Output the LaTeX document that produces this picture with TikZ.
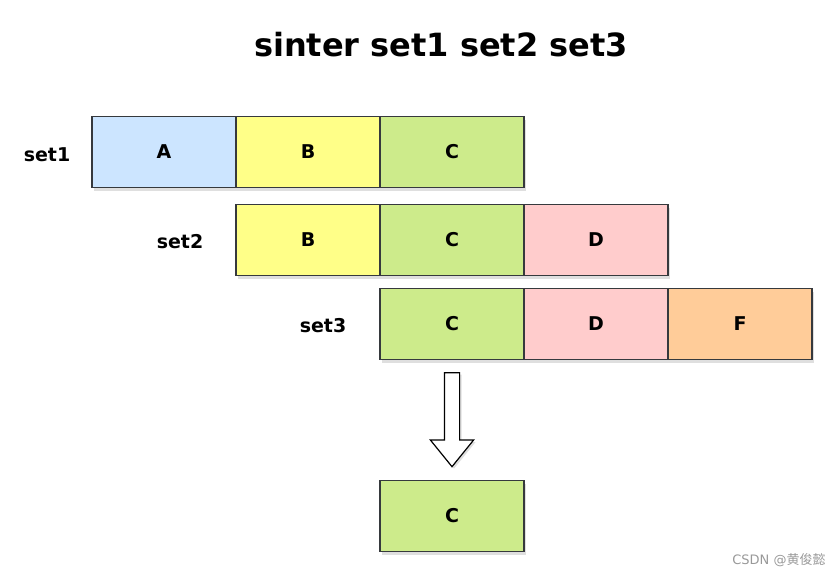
\documentclass[tikz,border=0pt]{standalone}
\usepackage{fontspec}
\setmainfont{DejaVu Sans}
\newfontfamily\cjk{Noto Sans CJK SC}
\usetikzlibrary{shapes,shadows,calc}

\definecolor{lineC}{HTML}{36393D}
\definecolor{colA}{HTML}{CCE5FF}
\definecolor{colB}{HTML}{FFFF88}
\definecolor{colC}{HTML}{CDEB8B}
\definecolor{colD}{HTML}{FFCCCC}
\definecolor{colF}{HTML}{FFCC99}

\begin{document}
\begin{tikzpicture}[x=1pt,y=-1pt]
\tikzstyle{cell}=[rectangle,draw=lineC,line width=1.6pt,minimum width=144pt,minimum height=71pt,inner sep=0pt,font=\fontsize{19}{22}\selectfont\bfseries,drop shadow={shadow xshift=2pt,shadow yshift=-3pt,opacity=0.25,fill=gray}]
\tikzstyle{setname}=[font=\fontsize{19}{22}\selectfont\bfseries]
\tikzstyle{downarrow}=[single arrow,shape border rotate=270,draw=black,line width=1.2pt,fill=white,inner sep=7pt,minimum height=94pt,single arrow head extend=14pt,single arrow tip angle=78,drop shadow={shadow xshift=2pt,shadow yshift=-2pt,opacity=0.25,fill=gray}]
\useasboundingbox (0,0) rectangle (836,578);

\node[font=\fontsize{32}{36}\selectfont\bfseries] (title) at (441,45) {sinter set1 set2 set3};

% set1
\node[setname] (s1) at (47,155) {set1};
\node[cell,fill=colA] (A1) at (164,152) {A};
\node[cell,fill=colB] (B1) at (308,152) {B};
\node[cell,fill=colC] (C1) at (452,152) {C};

% set2
\node[setname] (s2) at (180,242) {set2};
\node[cell,fill=colB] (B2) at (308,240) {B};
\node[cell,fill=colC] (C2) at (452,240) {C};
\node[cell,fill=colD] (D2) at (596,240) {D};

% set3
\node[setname] (s3) at (323,326) {set3};
\node[cell,fill=colC] (C3) at (452,324) {C};
\node[cell,fill=colD] (D3) at (596,324) {D};
\node[cell,fill=colF] (F3) at (740,324) {F};

% result
\node[cell,fill=colC] (R) at (452,516) {C};
\node[downarrow,yshift=5pt] (arr) at ($(C3.south)!0.5!(R.north)$) {};

\node[text=gray!80,font=\fontsize{13}{15}\selectfont] (mark) at (779,560) {CSDN @{\cjk 黄俊懿}};
\end{tikzpicture}
\end{document}
